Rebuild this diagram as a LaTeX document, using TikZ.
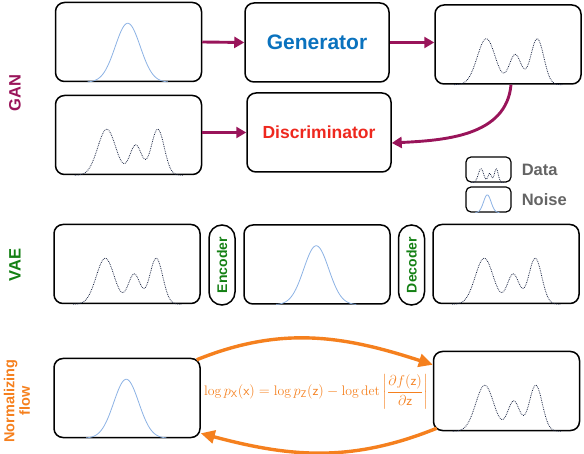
\documentclass[tikz,border=0pt]{standalone}
\usepackage{amsmath}
\usepackage{fontspec}
\usepackage{tikz}
\usetikzlibrary{arrows.meta, positioning}
\newfontfamily\labelfont{Liberation Sans}

\definecolor{ganmagenta}{RGB}{153,20,90}
\definecolor{genblue}{RGB}{10,114,190}
\definecolor{discred}{RGB}{238,40,30}
\definecolor{vaegreen}{RGB}{20,128,20}
\definecolor{flowline}{RGB}{245,128,30}
\definecolor{noiseblue}{RGB}{140,178,228}
\definecolor{datanavy}{RGB}{30,40,70}
\definecolor{legendgray}{RGB}{100,100,100}

\tikzset{x=1pt, y=-1pt,
    panel/.style = {draw, line width=1.5pt, rounded corners=9pt, minimum width=146pt, minimum height=79pt, inner sep=0pt},
    block/.style = {panel, minimum width=144pt, font=\labelfont\bfseries},
    pill/.style = {draw, line width=1.5pt, rounded corners=13pt, minimum width=26pt, minimum height=80pt, inner sep=0pt},
    mini/.style = {draw, line width=1.2pt, rounded corners=5pt, minimum width=45pt, minimum height=25pt, inner sep=0pt},
    noise/.style = {noiseblue, line width=0.8pt},
    data/.style = {datanavy, line width=0.8pt, densely dotted},
    ganarrow/.style = {ganmagenta, line width=2.9pt, -{Triangle[length=10pt, width=11pt]}},
    flowarrow/.style = {flowline, line width=3.4pt, -{Triangle[length=14pt, width=13pt]}},
    rowlabel/.style = {rotate=90, font=\labelfont\bfseries\fontsize{16.5}{18}\selectfont}
}

% curves drawn relative to the lower left corner of a box
\newcommand{\noisecurve}[2][1]{\draw[noise, shift={(#2.south west)}, scale=#1]
    plot[domain=33:113, samples=70] (\x, {-59*exp(-((\x-73)*(\x-73))/312.5)});}
\newcommand{\datacurve}[2][1]{\draw[data, shift={(#2.south west)}, scale=#1]
    plot[domain=20:128, samples=120] (\x, {-(46*exp(-((\x-52)*(\x-52))/162)
        + 30*exp(-((\x-81)*(\x-81))/72) + 46*exp(-((\x-103)*(\x-103))/84.5))});}

\begin{document}
\begin{tikzpicture}
    \useasboundingbox (0,0) rectangle (584,454);

    % GAN
    \node[rowlabel, ganmagenta] (ganlbl) at (15,93) {GAN};
    \node[panel] (gnoise) at (128.5,42) {};
    \node[block, text=genblue, font=\labelfont\bfseries\fontsize{21}{24}\selectfont] (gen) at (317,42.5) {Generator};
    \node[panel] (gout) at (508,44.5) {};
    \node[panel] (gdata) at (128.5,135) {};
    \node[block, text=discred, font=\labelfont\bfseries\fontsize{17.5}{20}\selectfont] (disc) at (319,132.5) {Discriminator};
    \noisecurve{gnoise}
    \datacurve{gout}
    \datacurve{gdata}
    \draw[ganarrow] (gnoise.east) -- (gen.west);
    \draw[ganarrow] (gen.east) -- (gen.east -| gout.west);
    \draw[ganarrow] (gdata.east |- disc.west) -- (disc.west);
    \draw[ganarrow] ([xshift=3pt]gout.south) to[out=-95, in=3] ([yshift=-10.5pt]disc.east);

    % legend
    \node[mini] (legdata) at (488.5,169.5) {};
    \node[mini] (legnoise) at (488.5,199.5) {};
    \datacurve[0.3]{legdata}
    \noisecurve[0.3]{legnoise}
    \node[right=10pt of legdata, inner sep=0pt, text=legendgray, font=\labelfont\bfseries\fontsize{16.5}{18}\selectfont] (datalbl) {Data};
    \node[right=10pt of legnoise, inner sep=0pt, text=legendgray, font=\labelfont\bfseries\fontsize{16.5}{18}\selectfont] (noiselbl) {Noise};

    % VAE
    \node[rowlabel, vaegreen] (vaelbl) at (15,265) {VAE};
    \node[panel] (vdata) at (127,264) {};
    \node[pill] (enc) at (222,265) {};
    \node[rotate=90, text=vaegreen, font=\labelfont\bfseries\fontsize{14}{16}\selectfont] (enclbl) at (enc) {Encoder};
    \node[panel] (vmid) at (317,264.5) {};
    \node[pill] (dec) at (411.5,265) {};
    \node[rotate=90, text=vaegreen, font=\labelfont\bfseries\fontsize{14}{16}\selectfont] (declbl) at (dec) {Decoder};
    \node[panel] (vout) at (506,264) {};
    \datacurve{vdata}
    \noisecurve{vmid}
    \datacurve{vout}

    % normalizing flow
    \node[rotate=90, align=center, text=flowline, font=\labelfont\bfseries\fontsize{14.5}{15.5}\selectfont] (flowlbl) at (17,401) {Normalizing\\flow};
    \node[panel] (fnoise) at (127,398) {};
    \node[panel] (fdata) at (506.5,391) {};
    \noisecurve{fnoise}
    \datacurve{fdata}
    \node[text=flowline, font=\fontsize{13.8}{16}\selectfont] (formula) at (316,392)
        {$\log p_{\mathsf{X}}(\mathsf{x}) = \log p_{\mathsf{Z}}(\mathsf{z}) - \log\det\left|\dfrac{\partial f(\mathsf{z})}{\partial\mathsf{z}}\right|$};
    \draw[flowarrow] ([xshift=-4pt,yshift=-2pt]fnoise.north east) to[out=22, in=162] ([yshift=-14pt]fdata.north west);
    \draw[flowarrow] ([xshift=4pt,yshift=3pt]fdata.south west) to[out=202, in=-15] ([yshift=5pt]fnoise.south east);
\end{tikzpicture}
\end{document}
